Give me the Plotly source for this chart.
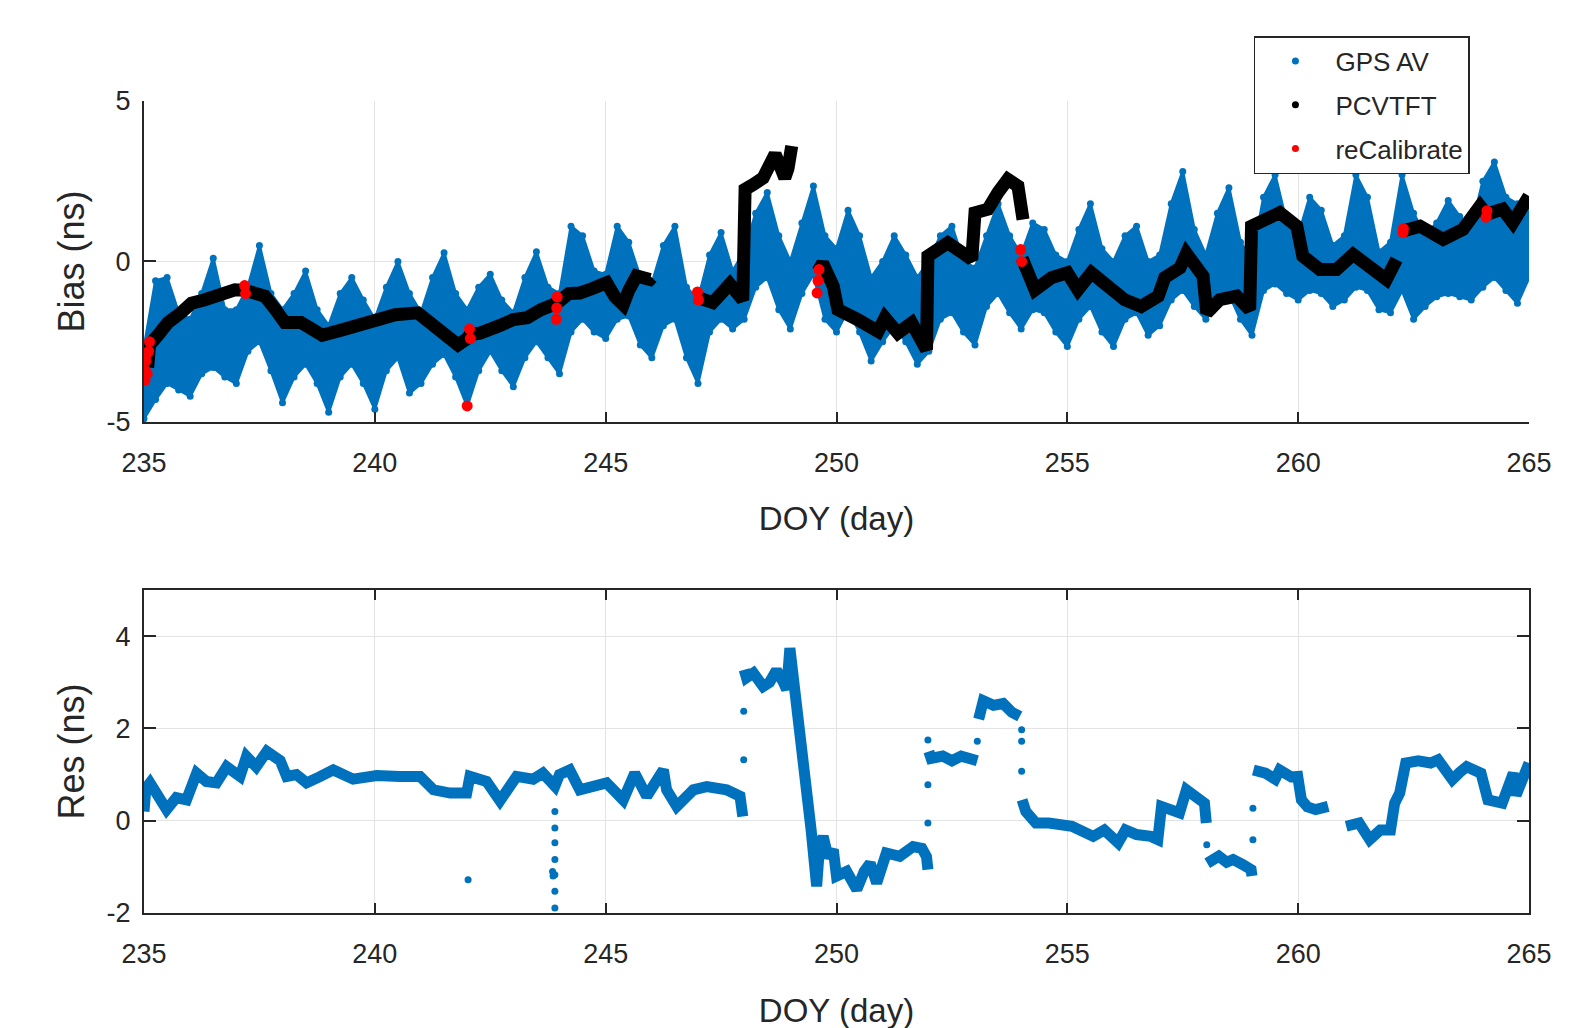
import plotly.graph_objects as go

# ---------------- data ----------------
# GPS AV: upper and lower envelope of the dense point cloud (Bias, ns)
gps_day = [235.0, 235.25, 235.5, 235.75, 236.0, 236.25, 236.5, 236.75, 237.0, 237.25,
           237.5, 237.75, 238.0, 238.25, 238.5, 238.75, 239.0, 239.25, 239.5, 239.75,
           240.0, 240.25, 240.5, 240.75, 241.0, 241.25, 241.5, 241.75, 242.0, 242.25,
           242.5, 242.75, 243.0, 243.25, 243.5, 243.75, 244.0, 244.25, 244.5, 244.75,
           245.0, 245.25, 245.5, 245.75, 246.0, 246.25, 246.5, 246.75, 247.0, 247.25,
           247.5, 247.75, 248.0, 248.25, 248.5, 248.75, 249.0, 249.25, 249.5, 249.75,
           250.0, 250.25, 250.5, 250.75, 251.0, 251.25, 251.5, 251.75, 252.0, 252.25,
           252.5, 252.75, 253.0, 253.25, 253.5, 253.75, 254.0, 254.25, 254.5, 254.75,
           255.0, 255.25, 255.5, 255.75, 256.0, 256.25, 256.5, 256.75, 257.0, 257.25,
           257.5, 257.75, 258.0, 258.25, 258.5, 258.75, 259.0, 259.25, 259.5, 259.75,
           260.0, 260.25, 260.5, 260.75, 261.0, 261.25, 261.5, 261.75, 262.0, 262.25,
           262.5, 262.75, 263.0, 263.25, 263.5, 263.75, 264.0, 264.25, 264.5, 264.75, 265.0]
gps_high = [-2.7, -0.6, -0.5, -1.6, -1.8, -1.0, 0.1, -1.5, -1.5, -0.8,
            0.5, -1.0, -1.5, -1.0, -0.3, -1.5, -2.0, -1.0, -0.5, -1.2,
            -1.8, -0.8, 0.0, -1.0, -1.6, -0.5, 0.27, -1.0, -1.5, -0.8,
            -0.4, -1.2, -1.6, -0.5, 0.3, -0.8, -1.0, 1.1, 0.8, -0.3,
            -0.4, 1.1, 0.6, -0.5, -0.7, 0.5, 1.1, -0.8, -1.2, 0.2,
            0.9, -0.3, 0.3, 1.5, 2.15, 0.8, 0.0, 1.2, 2.35, 0.8,
            0.4, 1.6, 0.8, -0.5, 0.0, 0.8, 0.2, -0.5, 0.0, 0.8,
            1.1, 0.0, -0.2, 0.8, 1.8, 0.8, 0.2, 1.2, 1.0, 0.2,
            0.0, 1.0, 1.8, 0.4, 0.0, 0.8, 1.1, 0.0, 0.2, 1.8,
            2.8, 1.0, 0.2, 1.5, 2.3, 0.6, 0.0, 2.0, 2.7, 1.2,
            0.8, 2.0, 1.6, 0.5, 0.8, 2.7, 2.0, 0.3, 0.6, 2.7,
            1.5, 0.8, 1.2, 1.9, 1.4, 1.0, 2.5, 3.1, 2.0, 1.8, 1.8]
gps_low = [-4.9, -4.3, -3.8, -4.0, -4.2, -3.5, -3.3, -3.6, -3.8, -2.8,
           -2.5, -3.4, -4.4, -3.6, -3.2, -3.8, -4.7, -3.6, -3.2, -3.8,
           -4.6, -3.4, -3.0, -4.1, -3.8, -3.2, -2.9, -3.6, -4.5, -3.4,
           -2.8, -3.4, -3.9, -3.0, -2.5, -3.0, -3.5, -2.2, -1.8, -2.2,
           -2.4, -1.8, -1.7, -2.6, -3.0, -2.0, -1.8, -3.0, -3.8, -2.2,
           -1.8, -2.1, -1.8, -0.8, -0.5, -1.5, -2.1, -1.0, -0.4, -1.8,
           -2.2, -1.5, -2.2, -3.1, -2.5, -2.0, -2.5, -3.2, -2.8, -1.8,
           -1.6, -2.2, -2.6, -1.4, -1.0, -1.6, -2.1, -1.5, -1.6, -2.2,
           -2.65, -1.8, -1.4, -2.2, -2.65, -1.8, -1.6, -2.3, -2.0, -1.2,
           -0.9, -1.4, -1.8, -1.2, -1.0, -1.8, -2.3, -0.9, -0.7, -1.0,
           -1.2, -0.9, -1.0, -1.4, -1.2, -0.8, -0.9, -1.5, -1.6, -0.9,
           -1.8, -1.4, -1.1, -1.0, -1.1, -1.2, -0.8, -0.5, -0.9, -1.3, -0.5]

# PCVTFT (None separates the segments)
pcv_day = [235.08, 235.12, 235.3, 235.52, 235.8, 236.03, 236.3, 236.6, 236.97, 237.19,
           237.4, 237.62, 237.85, 238.05, 238.4, 238.6, 238.86, 239.29, 239.6, 239.85,
           240.44, 240.93, 241.2, 241.46, 241.8, 242.0, 242.06, 242.28, 242.45, 242.7,
           243.0, 243.3, 243.6, 243.94, 244.2, 244.44, 244.7, 245.02, 245.2, 245.38,
           245.5, 245.67, 245.96, 246.0, None,
           246.95, 247.32, 247.5, 247.69, 247.97, 248.02, 248.2, 248.41, 248.55, 248.67,
           248.8, 248.88, 248.95, 249.03, None,
           249.6, 249.7, 249.93, 250.03, 250.46, 250.9, 251.05, 251.33, 251.63, 251.95,
           251.98, 252.2, 252.41, 252.7, 252.93, 253.0, 253.28, 253.5, 253.71, 253.93,
           254.04, None,
           254.02, 254.3, 254.66, 255.0, 255.23, 255.52, 255.88, 256.24, 256.6, 256.97,
           257.11, 257.44, 257.58, 257.8, 257.94, 258.02, 258.3, 258.67, 258.95, 258.99,
           259.24, 259.6, 259.97, 260.1, 260.47, 260.83, 261.19, 261.55, 261.91, 262.13, None,
           262.27, 262.64, 263.14, 263.57, 263.94, 264.08, 264.43, 264.65, 265.0]
pcv_bias = [-3.3, -2.6, -2.3, -1.9, -1.6, -1.3, -1.2, -1.08, -0.88, -0.9,
            -0.95, -1.08, -1.5, -1.9, -1.9, -2.1, -2.3, -2.13, -2.0, -1.81,
            -1.66, -1.6, -1.9, -2.23, -2.6, -2.4, -2.28, -2.23, -2.17, -2.0,
            -1.81, -1.75, -1.5, -1.3, -1.0, -0.98, -0.85, -0.66, -1.1, -1.35,
            -0.9, -0.45, -0.56, -0.5, None,
            -1.1, -1.28, -1.0, -0.7, -1.2, 2.25, 2.4, 2.6, 3.0, 3.34,
            2.9, 2.6, 2.9, 3.6, None,
            -0.3, -0.05, -0.77, -1.5, -1.81, -2.18, -1.75, -2.23, -1.91, -2.75,
            0.17, 0.4, 0.58, 0.3, 0.06, 1.52, 1.63, 2.15, 2.56, 2.35,
            1.31, None,
            0.1, -0.88, -0.5, -0.35, -0.88, -0.35, -0.77, -1.19, -1.4, -1.08,
            -0.5, -0.2, 0.25, -0.3, -0.46, -1.6, -1.19, -1.08, -1.5, 1.1,
            1.31, 1.52, 1.1, 0.17, -0.25, -0.25, 0.22, -0.15, -0.56, 0.06, None,
            0.95, 1.1, 0.69, 1.0, 1.73, 1.47, 1.63, 1.21, 2.04]

# reCalibrate points
recal_day = [235.02, 235.03, 235.04, 235.05, 235.07, 235.1, 235.12,
             237.18, 237.2, 242.0, 242.05, 242.07,
             243.93, 243.94, 243.95, 246.99, 247.01,
             249.58, 249.6, 249.62, 253.99, 254.01, 262.27, 262.28, 264.07, 264.09]
recal_bias = [-3.7, -3.4, -3.1, -2.9, -3.5, -2.8, -2.5,
              -0.75, -1.0, -4.5, -2.1, -2.4,
              -1.8, -1.45, -1.1, -0.95, -1.2,
              -0.98, -0.6, -0.25, 0.37, 0.0, 0.9, 1.02, 1.38, 1.58]

# Residual (Res, ns), None separates the segments
res_day = [235.0, 235.04, 235.13, 235.3, 235.49, 235.7, 235.92, 236.14, 236.35, 236.57,
           236.79, 237.08, 237.22, 237.43, 237.66, 237.95, 238.09, 238.3, 238.52, 238.8,
           239.1, 239.53, 240.04, 240.54, 240.98, 241.27, 241.63, 241.99, 242.06, 242.42,
           242.71, 243.07, 243.43, 243.64, 243.9, 244.0, 244.22, 244.44, 244.59, 245.02,
           245.38, 245.63, 245.89, 246.25, 246.32, 246.54, 246.9, 247.19, 247.62, 247.91,
           247.97, None,
           248.0, 248.05, 248.2, 248.3, 248.41, 248.55, 248.7, 248.85, 248.92, 248.99,
           249.15, 249.3, 249.45, 249.57, 249.63, 249.71, 249.82, 249.93, 250.0, 250.22,
           250.44, 250.6, 250.73, 250.87, 251.08, 251.37, 251.66, 251.85, 251.95, 251.98, None,
           252.0, 252.05, 252.3, 252.5, 252.7, 252.9, 253.05, None,
           253.08, 253.18, 253.4, 253.61, 253.8, 253.97, None,
           254.02, 254.1, 254.32, 254.6, 255.1, 255.3, 255.56, 255.8, 256.1, 256.26,
           256.5, 256.81, 256.96, 257.04, 257.25, 257.43, 257.58, 257.7, 257.97, 258.01, None,
           258.03, 258.28, 258.45, 258.59, 258.8, 258.98, 259.0, None,
           259.03, 259.29, 259.5, 259.6, 259.85, 259.99, 260.07, 260.2, 260.38, 260.65, None,
           261.04, 261.32, 261.55, 261.78, 262.0, 262.09, 262.2, 262.33, 262.6, 262.87,
           263.03, 263.34, 263.5, 263.65, 263.96, 264.11, 264.42, 264.66, 264.72, 264.85, 265.0]
res_ns = [0.2, 0.7, 0.82, 0.55, 0.24, 0.5, 0.45, 1.03, 0.85, 0.82,
          1.17, 0.96, 1.39, 1.17, 1.5, 1.3, 0.96, 1.0, 0.82, 0.95,
          1.1, 0.9, 0.98, 0.96, 0.96, 0.67, 0.6, 0.6, 0.96, 0.85,
          0.43, 0.96, 0.9, 1.03, 0.75, 1.0, 1.1, 0.67, 0.7, 0.82,
          0.45, 1.03, 0.53, 1.1, 0.67, 0.31, 0.67, 0.74, 0.67, 0.53,
          0.09, None,
          3.27, 3.1, 3.2, 3.0, 2.91, 3.0, 3.26, 3.0, 2.84, 3.74,
          2.5, 1.2, -0.2, -1.42, -0.6, -0.34, -0.8, -0.63, -1.2, -1.1,
          -1.49, -1.1, -0.92, -1.35, -0.7, -0.77, -0.56, -0.6, -0.78, -1.06, None,
          1.5, 1.35, 1.4, 1.3, 1.4, 1.35, 1.3, None,
          2.2, 2.6, 2.5, 2.54, 2.35, 2.26, None,
          0.45, 0.2, -0.05, -0.05, -0.12, -0.2, -0.34, -0.2, -0.48, -0.2,
          -0.3, -0.34, -0.41, 0.31, 0.2, 0.17, 0.67, 0.6, 0.38, -0.05, None,
          -0.92, -0.77, -0.9, -0.84, -0.95, -1.06, -1.2, None,
          1.1, 1.03, 0.9, 1.1, 0.95, 0.96, 0.45, 0.3, 0.24, 0.31, None,
          -0.12, -0.05, -0.41, -0.2, -0.2, 0.38, 0.6, 1.25, 1.3, 1.25,
          1.32, 0.89, 1.05, 1.17, 1.03, 0.45, 0.38, 1.03, 0.55, 0.9, 1.25]

# isolated residual points
res_dot_day = [242.02, 243.85, 243.86, 243.9, 243.9, 243.9, 243.9, 243.9, 243.9, 243.9,
               247.99, 247.99, 251.98, 251.98, 251.98, 253.05, 254.01, 254.01, 254.01,
               258.02, 259.02, 259.02]
res_dot_ns = [-1.28, -1.1, -1.2, 0.2, -0.16, -0.48, -0.84, -1.17, -1.53, -1.89,
              1.32, 2.37, -0.05, 0.78, 1.75, 1.72, 1.97, 1.72, 1.07,
              -0.52, -0.41, 0.27]

x_ticks = [235, 240, 245, 250, 255, 260, 265]
bias_ticks = [-5, 0, 5]
bias_tick_labels = ["-5", "0", "5"]
res_ticks = [-2, 0, 2, 4]
res_tick_labels = ["-2", "0", "2", "4"]

# ---------------- styles ----------------
BLUE = "#0072BD"
AX = "#262626"
GRID = "#e3e3e3"
FONT = "Liberation Sans"

fig = go.Figure()

# top panel: GPS AV cloud (envelope)
fig.add_trace(go.Scatter(x=gps_day, y=gps_high, mode="lines+markers",
                         line=dict(color=BLUE, width=3), marker=dict(color=BLUE, size=7),
                         showlegend=False, hoverinfo="skip", xaxis="x", yaxis="y"))
fig.add_trace(go.Scatter(x=gps_day, y=gps_low, mode="lines+markers", fill="tonexty",
                         fillcolor=BLUE, line=dict(color=BLUE, width=3),
                         marker=dict(color=BLUE, size=7),
                         showlegend=False, hoverinfo="skip", xaxis="x", yaxis="y"))
# PCVTFT
fig.add_trace(go.Scatter(x=pcv_day, y=pcv_bias, mode="lines", connectgaps=False,
                         line=dict(color="black", width=13),
                         showlegend=False, xaxis="x", yaxis="y"))
# reCalibrate
fig.add_trace(go.Scatter(x=recal_day, y=recal_bias, mode="markers",
                         marker=dict(color="red", size=11),
                         showlegend=False, xaxis="x", yaxis="y"))

# legend entries
for name, col in [("GPS AV", BLUE), ("PCVTFT", "black"), ("reCalibrate", "red")]:
    fig.add_trace(go.Scatter(x=[None], y=[None], mode="markers", name=name,
                             marker=dict(color=col, size=7), xaxis="x", yaxis="y",
                             legendgroup=name))

# bottom panel: residual
fig.add_trace(go.Scatter(x=res_day, y=res_ns, mode="lines", connectgaps=False,
                         line=dict(color=BLUE, width=11),
                         showlegend=False, xaxis="x2", yaxis="y2"))
fig.add_trace(go.Scatter(x=res_dot_day, y=res_dot_ns, mode="markers",
                         marker=dict(color=BLUE, size=7),
                         showlegend=False, xaxis="x2", yaxis="y2"))

tickfont = dict(family=FONT, size=27, color=AX)
xtitlefont = dict(family=FONT, size=33, color=AX)
ytitlefont = dict(family=FONT, size=36, color=AX)

common_x = dict(range=[235, 265], tickvals=x_ticks, ticks="inside", ticklen=10,
                tickcolor=AX, tickwidth=1.5, showgrid=True, gridcolor=GRID, gridwidth=1.2,
                zeroline=False, showline=True, linecolor=AX, linewidth=2,
                tickfont=tickfont, automargin=False, ticklabelstandoff=16)
common_y = dict(ticks="inside", ticklen=12, tickcolor=AX, tickwidth=1.5,
                showgrid=True, gridcolor=GRID, gridwidth=1.2, zeroline=False,
                showline=True, linecolor=AX, linewidth=2, tickfont=tickfont,
                automargin=False, ticklabelstandoff=6)

fig.update_layout(
    width=1591, height=1028,
    margin=dict(l=136, r=70, t=93, b=123),
    paper_bgcolor="white", plot_bgcolor="white",
    xaxis=dict(common_x, domain=[0, 1], anchor="y",
               title=dict(text="DOY (day)", font=xtitlefont, standoff=30)),
    yaxis=dict(common_y, domain=[0.6047, 1], anchor="x", range=[-5, 5], tickvals=bias_ticks,
               ticktext=bias_tick_labels,
               title=dict(text="Bias (ns)", font=ytitlefont, standoff=11)),
    xaxis2=dict(common_x, domain=[0, 1], anchor="y2", mirror="ticks",
                title=dict(text="DOY (day)", font=xtitlefont, standoff=30)),
    yaxis2=dict(common_y, domain=[0, 0.3978], anchor="x2", range=[-2, 5], tickvals=res_ticks,
                ticktext=res_tick_labels, mirror="ticks",
                title=dict(text="Res (ns)", font=ytitlefont, standoff=11)),
    legend=dict(x=0.8014, y=1.0800, xanchor="left", yanchor="top",
                bgcolor="white", bordercolor=AX, borderwidth=1.5,
                font=dict(family=FONT, size=26, color=AX),
                tracegroupgap=7, itemwidth=70),
    showlegend=True,
)

fig.write_html("out.html")
